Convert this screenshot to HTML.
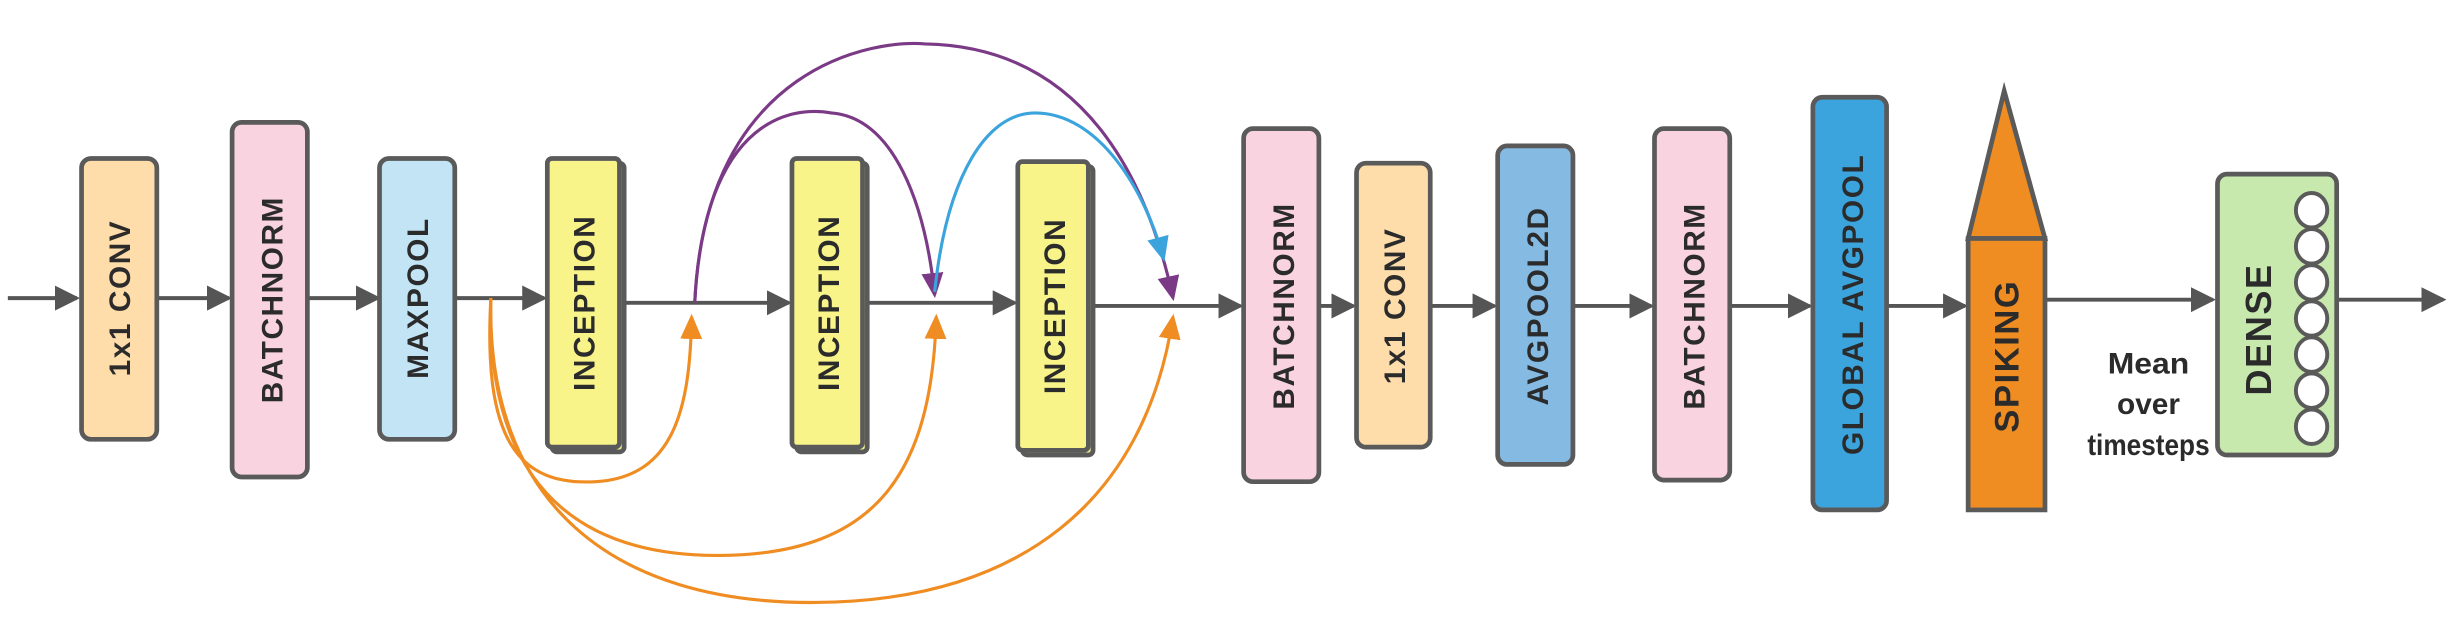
<!DOCTYPE html>
<html><head><meta charset="utf-8"><style>
html,body{margin:0;padding:0;background:#fff;}
svg{display:block}
text{font-family:"Liberation Sans",sans-serif;font-weight:bold;fill:#2b2b2b}
</style></head><body>
<svg width="2459" height="637" viewBox="0 0 1568 406" preserveAspectRatio="none" xmlns="http://www.w3.org/2000/svg">
<defs>
<marker id="ag" markerWidth="16" markerHeight="16" refX="14" refY="8" orient="auto" markerUnits="userSpaceOnUse"><path d="M0,0 L16,8 L0,16 z" fill="#555"/></marker>
<marker id="ao" markerWidth="16" markerHeight="14" refX="14" refY="7" orient="auto" markerUnits="userSpaceOnUse"><path d="M0,0 L16,7 L0,14 z" fill="#EF8C22"/></marker>
<marker id="ap" markerWidth="16" markerHeight="14" refX="14" refY="7" orient="auto" markerUnits="userSpaceOnUse"><path d="M0,0 L16,7 L0,14 z" fill="#7B3A86"/></marker>
<marker id="ab" markerWidth="16" markerHeight="14" refX="14" refY="7" orient="auto" markerUnits="userSpaceOnUse"><path d="M0,0 L16,7 L0,14 z" fill="#3CA4DD"/></marker>
</defs>
<g stroke="#555" stroke-width="2.5" fill="none">
<line x1="5" y1="190" x2="49" y2="190" marker-end="url(#ag)"/>
<line x1="100" y1="190" x2="146" y2="190" marker-end="url(#ag)"/>
<line x1="196" y1="190" x2="241" y2="190" marker-end="url(#ag)"/>
<line x1="290" y1="190" x2="347" y2="190" marker-end="url(#ag)"/>
<line x1="398" y1="193" x2="503" y2="193" marker-end="url(#ag)"/>
<line x1="552" y1="193" x2="647" y2="193" marker-end="url(#ag)"/>
<line x1="697" y1="195" x2="791" y2="195" marker-end="url(#ag)"/>
<line x1="841" y1="195" x2="863" y2="195" marker-end="url(#ag)"/>
<line x1="912" y1="195" x2="953" y2="195" marker-end="url(#ag)"/>
<line x1="1003" y1="195" x2="1053" y2="195" marker-end="url(#ag)"/>
<line x1="1103" y1="195" x2="1154" y2="195" marker-end="url(#ag)"/>
<line x1="1203" y1="195" x2="1253" y2="195" marker-end="url(#ag)"/>
<line x1="1304" y1="191" x2="1411" y2="191" marker-end="url(#ag)"/>
<line x1="1490" y1="191" x2="1558" y2="191" marker-end="url(#ag)"/>
</g>
<g stroke="#5a5a5a" stroke-width="3">
<rect x="52" y="101" width="48" height="179" rx="6" fill="#FFDDAA"/>
<rect x="148" y="78" width="48" height="226" rx="6" fill="#F9D3DF"/>
<rect x="242" y="101" width="48" height="179" rx="6" fill="#C2E4F5"/>
<rect x="352" y="104" width="46" height="184" rx="3" fill="#E8E48A"/>
<rect x="349" y="101" width="46" height="184" rx="3" fill="#F8F48A"/>
<rect x="508" y="104" width="45" height="184" rx="3" fill="#E8E48A"/>
<rect x="505" y="101" width="45" height="184" rx="3" fill="#F8F48A"/>
<rect x="652" y="106" width="45" height="184" rx="3" fill="#E8E48A"/>
<rect x="649" y="103" width="45" height="184" rx="3" fill="#F8F48A"/>
<rect x="793" y="82" width="48" height="225" rx="6" fill="#F9D3DF"/>
<rect x="865" y="104" width="47" height="181" rx="6" fill="#FFDDAA"/>
<rect x="955" y="93" width="48" height="203" rx="6" fill="#85BAE3"/>
<rect x="1055" y="82" width="48" height="224" rx="6" fill="#F9D3DF"/>
<rect x="1156" y="62" width="47" height="263" rx="6" fill="#3CA4DD"/>
<polygon points="1278,58 1304,152 1255,152" fill="#EF8C22"/>
<rect x="1255" y="152" width="49" height="173" fill="#EF8C22"/>
<rect x="1414" y="111" width="76" height="179" rx="6" fill="#C8E9AE"/>
</g>
<g stroke="#5a5a5a" stroke-width="2.5" fill="#fff">
<ellipse cx="1474" cy="134" rx="10" ry="11"/>
<ellipse cx="1474" cy="157" rx="10" ry="11"/>
<ellipse cx="1474" cy="180" rx="10" ry="11"/>
<ellipse cx="1474" cy="203" rx="10" ry="11"/>
<ellipse cx="1474" cy="226" rx="10" ry="11"/>
<ellipse cx="1474" cy="249" rx="10" ry="11"/>
<ellipse cx="1474" cy="272" rx="10" ry="11"/>
</g>
<g fill="none" stroke-width="2">
<path d="M313,190 C308,280 330,310 380,307 C430,304 440,260 441,202" stroke="#EF8C22" marker-end="url(#ao)"/>
<path d="M313,190 C310,300 360,355 460,354 C560,353 594,300 597,202" stroke="#EF8C22" marker-end="url(#ao)"/>
<path d="M313,190 C310,320 390,385 520,384 C650,383 730,320 748,202" stroke="#EF8C22" marker-end="url(#ao)"/>
<path d="M443,193 C450,60 520,70 530,72 C570,75 590,130 596,188" stroke="#7B3A86" marker-end="url(#ap)"/>
<path d="M443,193 C450,40 560,25 590,28 C700,30 735,130 748,190" stroke="#7B3A86" marker-end="url(#ap)"/>
<path d="M596,186 C604,110 630,72 660,72 C700,72 730,120 742,165" stroke="#3CA4DD" marker-end="url(#ab)"/>
</g>
<g font-size="19" letter-spacing="1">
<text transform="translate(83,190) rotate(-90)" text-anchor="middle">1x1 CONV</text>
<text transform="translate(180,191) rotate(-90)" text-anchor="middle">BATCHNORM</text>
<text transform="translate(273,190) rotate(-90)" text-anchor="middle">MAXPOOL</text>
<text transform="translate(379,193) rotate(-90)" text-anchor="middle" fill="#000">INCEPTION</text>
<text transform="translate(535,193) rotate(-90)" text-anchor="middle" fill="#000">INCEPTION</text>
<text transform="translate(679,195) rotate(-90)" text-anchor="middle" fill="#000">INCEPTION</text>
<text transform="translate(825,195) rotate(-90)" text-anchor="middle">BATCHNORM</text>
<text transform="translate(896,195) rotate(-90)" text-anchor="middle">1x1 CONV</text>
<text transform="translate(987,195) rotate(-90)" text-anchor="middle">AVGPOOL2D</text>
<text transform="translate(1087,195) rotate(-90)" text-anchor="middle">BATCHNORM</text>
<text transform="translate(1188,194) rotate(-90)" text-anchor="middle">GLOBAL AVGPOOL</text>
<text transform="translate(1287,227) rotate(-90)" text-anchor="middle" font-size="22">SPIKING</text>
<text transform="translate(1448,210) rotate(-90)" text-anchor="middle" font-size="23">DENSE</text>
</g>
<g font-size="19" text-anchor="middle">
<text x="1370" y="238" textLength="52" lengthAdjust="spacingAndGlyphs">Mean</text>
<text x="1370" y="264">over</text>
<text x="1370" y="290" textLength="78" lengthAdjust="spacingAndGlyphs">timesteps</text>
</g>
</svg>
</body></html>
